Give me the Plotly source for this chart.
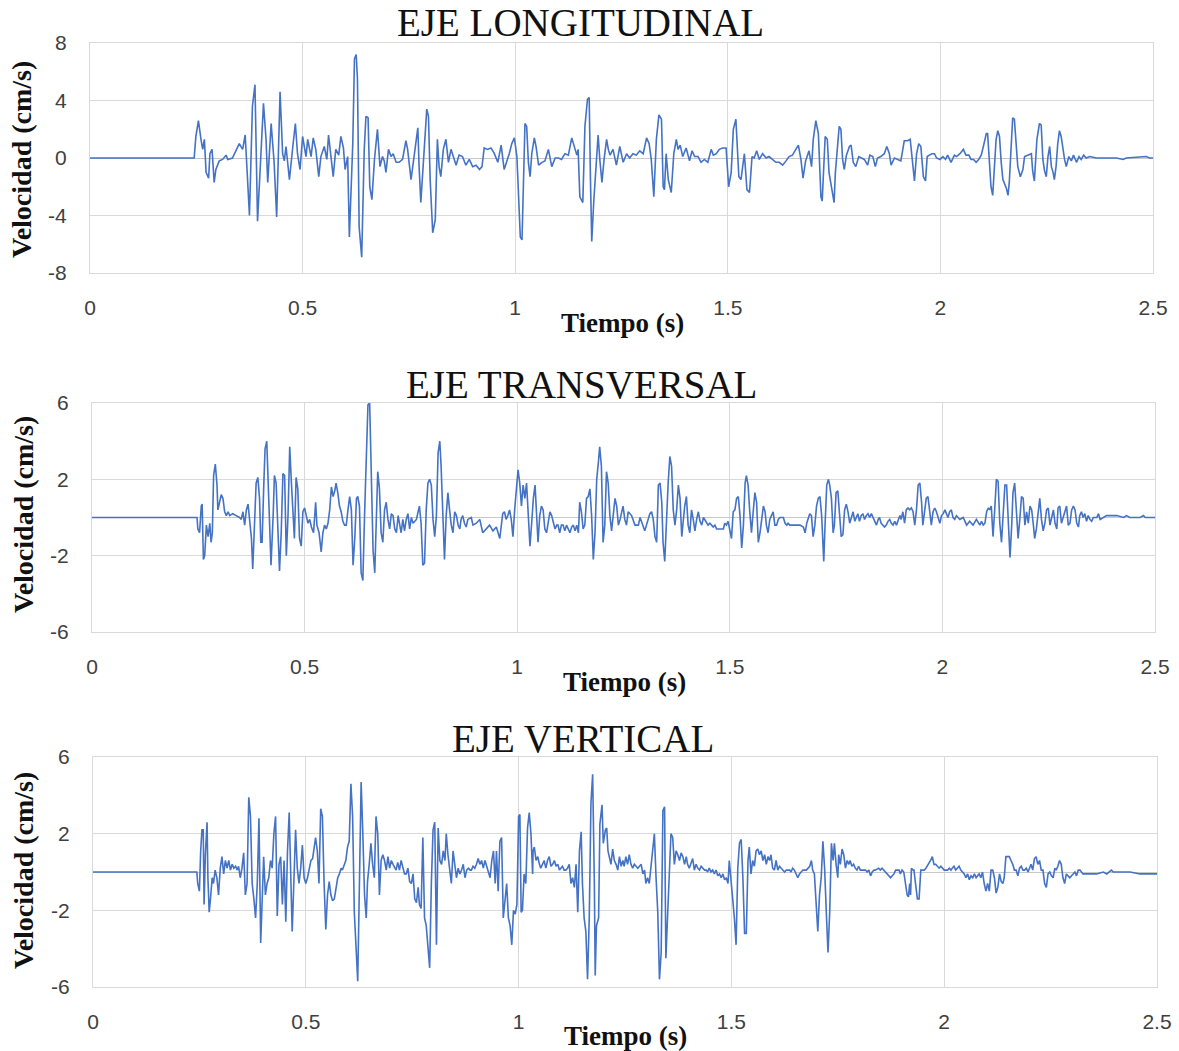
import plotly.graph_objects as go

# ---------------- DATA ----------------
T_LONG = [0, 0.245, 0.249, 0.255, 0.261, 0.265, 0.269, 0.273, 0.279, 0.282, 0.287, 0.292, 0.296, 0.304, 0.312, 0.320, 0.324, 0.335,
          0.351, 0.359, 0.365, 0.371, 0.375, 0.382, 0.388, 0.394, 0.402, 0.408, 0.414, 0.418, 0.426, 0.430, 0.433, 0.439, 0.447,
          0.453, 0.457, 0.461, 0.465, 0.469, 0.477, 0.483, 0.488, 0.494, 0.500, 0.508, 0.512, 0.520, 0.525, 0.531, 0.538, 0.543,
          0.551, 0.557, 0.561, 0.567, 0.572, 0.578, 0.585, 0.590, 0.596, 0.600, 0.606, 0.610, 0.618, 0.622, 0.626, 0.629, 0.633,
          0.639, 0.645, 0.649, 0.654, 0.658, 0.663, 0.669, 0.676, 0.682, 0.688, 0.692, 0.696, 0.702, 0.708, 0.713, 0.720, 0.727,
          0.735, 0.743, 0.747, 0.755, 0.763, 0.771, 0.774, 0.778, 0.786, 0.792, 0.796, 0.800, 0.806, 0.812, 0.817, 0.821, 0.825,
          0.831, 0.837, 0.843, 0.849, 0.854, 0.861, 0.868, 0.876, 0.884, 0.892, 0.900, 0.908, 0.916, 0.922, 0.927, 0.935, 0.943,
          0.951, 0.959, 0.967, 0.974, 0.980, 0.986, 0.992, 0.998, 1.004, 1.008, 1.012, 1.016, 1.020, 1.023, 1.027, 1.031, 1.035,
          1.039, 1.045, 1.049, 1.055, 1.063, 1.070, 1.078, 1.086, 1.094, 1.102, 1.109, 1.117, 1.125, 1.133, 1.137, 1.145, 1.148,
          1.152, 1.159, 1.164, 1.170, 1.174, 1.177, 1.180, 1.185, 1.190, 1.195, 1.199, 1.204, 1.209, 1.215, 1.219, 1.223, 1.230,
          1.238, 1.246, 1.254, 1.262, 1.269, 1.277, 1.285, 1.293, 1.301, 1.309, 1.315, 1.320, 1.326, 1.332, 1.338, 1.344, 1.348,
          1.351, 1.355, 1.360, 1.367, 1.373, 1.379, 1.383, 1.388, 1.394, 1.402, 1.410, 1.416, 1.422, 1.430, 1.437, 1.445, 1.453,
          1.461, 1.466, 1.473, 1.480, 1.488, 1.496, 1.502, 1.508, 1.513, 1.519, 1.526, 1.531, 1.539, 1.545, 1.551, 1.557, 1.562,
          1.568, 1.574, 1.582, 1.590, 1.597, 1.605, 1.613, 1.621, 1.629, 1.637, 1.644, 1.652, 1.660, 1.666, 1.672, 1.677, 1.683,
          1.691, 1.697, 1.701, 1.707, 1.713, 1.719, 1.722, 1.729, 1.734, 1.738, 1.744, 1.750, 1.753, 1.758, 1.762, 1.766, 1.770,
          1.774, 1.779, 1.786, 1.790, 1.795, 1.801, 1.808, 1.813, 1.821, 1.829, 1.834, 1.841, 1.847, 1.852, 1.860, 1.868, 1.874,
          1.880, 1.884, 1.892, 1.900, 1.907, 1.915, 1.923, 1.929, 1.933, 1.939, 1.944, 1.949, 1.954, 1.960, 1.965, 1.969, 1.974,
          1.980, 1.986, 1.991, 1.999, 2.006, 2.012, 2.017, 2.025, 2.033, 2.038, 2.046, 2.054, 2.060, 2.067, 2.072, 2.078, 2.084,
          2.090, 2.096, 2.101, 2.108, 2.111, 2.115, 2.119, 2.123, 2.127, 2.131, 2.135, 2.139, 2.143, 2.147, 2.155, 2.159, 2.162,
          2.166, 2.170, 2.174, 2.178, 2.182, 2.188, 2.194, 2.198, 2.206, 2.214, 2.217, 2.221, 2.227, 2.233, 2.237, 2.241, 2.245,
          2.249, 2.253, 2.257, 2.261, 2.265, 2.268, 2.272, 2.276, 2.280, 2.284, 2.288, 2.292, 2.296, 2.302, 2.308, 2.313, 2.320,
          2.326, 2.331, 2.337, 2.343, 2.351, 2.367, 2.414, 2.430, 2.437, 2.484, 2.492, 2.500]
V_LONG = [0, 0, 1.5, 2.6, 1.3, 0.6, 1.3, -1.0, -1.4, 0.3, 0.6, -1.7, -0.8, -0.2, -0.1, 0.2, -0.1, 0,
          1.0, 0.6, 1.6, -1.5, -4.0, 3.6, 5.1, -4.4, 0.1, 3.8, 1.3, -1.7, 2.4, 0.8, -0.3, -4.1, 4.6,
          0.3, -0.2, 0.8, -0.6, -1.5, 0.8, 2.4, 0.3, -0.8, 1.5, 0.1, 1.3, 0.1, 1.4, 0.6, -1.3, 0.1,
          0.8, -0.1, 1.6, -0.1, -1.3, 0.6, 0.2, 1.5, 0.7, -0.8, 0.1, -5.5, 1.0, 6.9, 7.2, 5.5, -4.8,
          -6.9, 0.6, 2.9, 2.8, -2.0, -2.9, -0.1, 2.0, -0.6, 0.1, -0.2, -1.0, 0.6, 0.1, 0.3, -0.3, -0.3,
          -0.1, 1.2, 0.6, -1.5, 0.3, 2.1, -0.6, -3.1, 0.6, 3.4, 2.9, -1.5, -5.2, -4.3, 1.3, -0.6, -1.3,
          0.6, 1.3, -0.3, 0.6, 0.1, -0.5, 0.2, 0.1, -0.5, -0.1, -0.6, -0.5, -0.8, -0.6, 0.7, 0.6, 0.7,
          0.3, -0.3, 0.9, -0.8, -0.3, 0.3, 1.0, 1.4, 0.1, -2.9, -5.5, -5.7, -0.6, 2.4, 2.2, -0.3, -1.3,
          0.3, 1.4, 0.8, -0.5, -0.3, -0.2, 0.6, -0.6, 0, 0, -0.1, 0.3, 0.2, 1.4, 1.0, 0.2, 0.6,
          -2.7, -3.1, 2.2, 4.1, 4.2, -1.5, -5.8, -2.9, -0.6, 1.6, -0.1, -1.7, -0.1, 1.3, 0.6, 0.2, 0.6,
          -0.5, 0.8, -0.3, 0.3, 0, 0.3, 0.2, 0.5, 0.3, 1.4, 1.0, -0.1, -2.7, 1.3, 3.0, 2.7, -2.0,
          -2.2, 0.3, -1.5, -2.4, 0.3, 1.3, 0.6, 0.9, 0.1, 0.7, -0.2, 0.5, 0.1, 0.1, -0.3, -0.1, -0.3,
          0.6, 0.2, 0.3, 0.6, 0.7, 0.7, -2.0, -1.0, 2.0, 2.7, -1.3, -1.5, 0.3, -2.2, -2.4, 0.1, 0,
          0.5, -0.1, 0.3, 0, 0.1, -0.1, -0.3, -0.3, -0.5, -0.2, 0.1, 0.2, 0.6, 0.9, -0.1, -1.4, -0.2,
          0.5, -0.6, 1.3, 2.6, 1.7, -2.7, -3.0, 1.5, 1.3, -1.0, -2.0, -3.1, -1.0, 0.6, 2.2, 2.0, -0.1,
          -0.8, 0.2, 0.8, 0.9, -0.3, -0.6, 0.1, 0, -0.1, -0.5, 0.2, 0.1, -0.6, 0, 0.1, 0.3, 0.8,
          0.3, -0.5, 0, -0.1, -0.2, 1.2, 1.2, 1.3, 0.1, -1.6, 0.3, 1.0, 0.8, -1.3, -1.6, 0.1, 0.2,
          0.3, 0.3, 0, -0.1, 0.1, -0.1, 0.2, -0.3, 0.2, 0.1, 0.3, 0.6, 0.2, 0.2, -0.1, -0.1, -0.3,
          -0.1, 0.2, 0.8, 1.7, 1.7, -0.6, -2.0, -2.6, -1.0, 1.3, 1.9, 1.5, -0.3, -1.5, -2.1, -2.6, -1.7,
          0.6, 2.8, 2.7, 0.8, -0.6, -1.3, -0.8, 0.1, 0.2, 0.3, -0.9, -1.6, 1.3, 2.4, 2.3, -0.1, -0.9,
          -1.3, 0.1, 0.8, -0.6, -1.0, -1.5, -0.6, 1.0, 1.9, 1.5, 0.6, -0.1, -0.6, 0.1, -0.2, 0.2, -0.3,
          0.1, -0.1, 0.2, 0, 0.1, 0, 0, -0.1, 0, 0.1, 0, 0]

T_TRANS = [0, 0.247, 0.249, 0.253, 0.257, 0.259, 0.262, 0.265, 0.269, 0.273, 0.277, 0.280, 0.283, 0.286, 0.290, 0.294, 0.296,
           0.300, 0.304, 0.308, 0.312, 0.316, 0.320, 0.324, 0.331, 0.339, 0.347, 0.351, 0.355, 0.359, 0.363, 0.367, 0.371,
           0.375, 0.378, 0.382, 0.386, 0.390, 0.394, 0.397, 0.400, 0.404, 0.407, 0.411, 0.415, 0.418, 0.421, 0.426, 0.429,
           0.433, 0.437, 0.441, 0.445, 0.449, 0.453, 0.457, 0.461, 0.465, 0.469, 0.473, 0.476, 0.480, 0.484, 0.488, 0.492,
           0.496, 0.500, 0.504, 0.508, 0.512, 0.516, 0.521, 0.526, 0.529, 0.534, 0.539, 0.543, 0.547, 0.551, 0.555, 0.559,
           0.563, 0.567, 0.571, 0.574, 0.578, 0.582, 0.586, 0.590, 0.594, 0.598, 0.602, 0.606, 0.610, 0.614, 0.618, 0.622,
           0.625, 0.629, 0.633, 0.637, 0.641, 0.645, 0.649, 0.653, 0.657, 0.661, 0.665, 0.669, 0.672, 0.676, 0.680, 0.684,
           0.688, 0.692, 0.696, 0.700, 0.704, 0.708, 0.712, 0.716, 0.720, 0.723, 0.727, 0.731, 0.735, 0.739, 0.743, 0.747,
           0.751, 0.755, 0.763, 0.767, 0.770, 0.774, 0.778, 0.782, 0.786, 0.790, 0.794, 0.798, 0.802, 0.806, 0.810, 0.814,
           0.818, 0.821, 0.825, 0.829, 0.833, 0.837, 0.841, 0.845, 0.849, 0.853, 0.857, 0.861, 0.865, 0.868, 0.872, 0.876,
           0.880, 0.884, 0.892, 0.896, 0.904, 0.912, 0.919, 0.927, 0.935, 0.943, 0.951, 0.959, 0.963, 0.966, 0.970, 0.974,
           0.978, 0.982, 0.986, 0.990, 0.994, 0.998, 1.002, 1.006, 1.010, 1.014, 1.018, 1.022, 1.026, 1.030, 1.034, 1.038,
           1.042, 1.046, 1.049, 1.053, 1.057, 1.061, 1.065, 1.069, 1.073, 1.077, 1.081, 1.085, 1.089, 1.093, 1.096, 1.100,
           1.104, 1.108, 1.112, 1.116, 1.124, 1.128, 1.132, 1.136, 1.140, 1.144, 1.147, 1.151, 1.155, 1.159, 1.163, 1.167,
           1.171, 1.175, 1.179, 1.183, 1.187, 1.191, 1.194, 1.198, 1.202, 1.206, 1.210, 1.214, 1.218, 1.222, 1.226, 1.230,
           1.234, 1.238, 1.242, 1.245, 1.249, 1.253, 1.257, 1.261, 1.269, 1.277, 1.285, 1.289, 1.296, 1.300, 1.304, 1.312,
           1.316, 1.320, 1.324, 1.328, 1.332, 1.336, 1.340, 1.343, 1.347, 1.351, 1.355, 1.359, 1.363, 1.367, 1.371, 1.375,
           1.379, 1.383, 1.387, 1.390, 1.394, 1.398, 1.402, 1.406, 1.410, 1.414, 1.418, 1.422, 1.426, 1.430, 1.434, 1.438,
           1.445, 1.449, 1.453, 1.461, 1.465, 1.469, 1.477, 1.485, 1.488, 1.492, 1.496, 1.500, 1.504, 1.508, 1.512, 1.516,
           1.520, 1.524, 1.528, 1.532, 1.536, 1.539, 1.543, 1.547, 1.551, 1.555, 1.559, 1.563, 1.567, 1.571, 1.575, 1.579,
           1.583, 1.586, 1.590, 1.594, 1.598, 1.602, 1.606, 1.610, 1.614, 1.618, 1.626, 1.630, 1.634, 1.637, 1.641, 1.649,
           1.657, 1.665, 1.673, 1.677, 1.681, 1.684, 1.688, 1.692, 1.696, 1.700, 1.704, 1.708, 1.712, 1.716, 1.720, 1.721,
           1.724, 1.728, 1.732, 1.735, 1.739, 1.743, 1.746, 1.750, 1.754, 1.758, 1.762, 1.766, 1.770, 1.774, 1.778, 1.782,
           1.786, 1.790, 1.794, 1.798, 1.801, 1.805, 1.809, 1.813, 1.817, 1.821, 1.825, 1.829, 1.833, 1.841, 1.845, 1.849,
           1.852, 1.856, 1.860, 1.864, 1.868, 1.872, 1.876, 1.880, 1.884, 1.888, 1.892, 1.896, 1.900, 1.903, 1.907, 1.911,
           1.915, 1.919, 1.923, 1.927, 1.931, 1.935, 1.939, 1.943, 1.947, 1.951, 1.954, 1.958, 1.962, 1.966, 1.970, 1.974,
           1.978, 1.982, 1.986, 1.990, 1.994, 1.998, 2.002, 2.006, 2.009, 2.013, 2.017, 2.021, 2.025, 2.029, 2.033, 2.041,
           2.049, 2.053, 2.057, 2.064, 2.072, 2.080, 2.088, 2.092, 2.096, 2.100, 2.104, 2.108, 2.111, 2.115, 2.119, 2.123,
           2.127, 2.131, 2.135, 2.139, 2.143, 2.147, 2.151, 2.155, 2.159, 2.163, 2.166, 2.170, 2.174, 2.178, 2.182, 2.186,
           2.190, 2.194, 2.198, 2.202, 2.206, 2.210, 2.214, 2.217, 2.221, 2.225, 2.229, 2.233, 2.237, 2.241, 2.245, 2.249,
           2.253, 2.257, 2.261, 2.265, 2.269, 2.272, 2.276, 2.280, 2.288, 2.292, 2.296, 2.300, 2.304, 2.308, 2.312, 2.316,
           2.320, 2.323, 2.327, 2.331, 2.335, 2.339, 2.343, 2.347, 2.351, 2.355, 2.363, 2.367, 2.371, 2.378, 2.386, 2.410,
           2.426, 2.433, 2.441, 2.465, 2.473, 2.477, 2.500]
V_TRANS = [0, 0, -0.6, -0.8, 0.6, 0.7, -2.2, -2.0, -0.4, -1.0, -0.3, -1.3, -0.8, 2.2, 2.8, 1.7, 0.4,
           0.8, 1.2, 1.0, 0.3, 0.1, 0.3, 0.1, 0.2, 0.1, 0, -0.1, 0.3, -0.4, 0.4, 0.7, -0.3,
           -1.1, -2.7, 0.1, 1.8, 2.1, 1.0, -1.3, -1.3, 1.7, 3.6, 4.0, 1.3, -1.1, -2.5, 0.1, 2.2,
           1.8, -0.8, -2.8, -0.8, 2.3, 2.2, -2.0, 0.1, 3.7, 1.8, -0.3, -1.1, 2.1, 1.5, -1.1, -1.5,
           0.3, 0.5, 0.1, -0.3, -0.1, -0.5, -0.8, 0.8, -0.4, -0.8, -1.8, -0.8, -0.4, -0.6, -0.3, 0.4,
           1.6, 1.1, 1.4, 1.8, 1.3, 0.6, 0.3, -0.2, -0.4, -0.4, 0.4, 1.1, 0.4, -2.5, -1.1, 1.0,
           1.1, 0.6, -2.9, -3.3, 0.1, 3.1, 5.9, 6.0, 1.5, -1.7, -2.9, 0.1, 2.4, 1.5, -0.8, -1.3,
           0.4, 0.8, -0.1, -0.6, 0.2, 0.1, -0.6, -0.8, 0.1, -0.3, -0.8, -0.1, -0.7, -0.1, 0.2, -0.6,
           0, -0.3, -0.1, 0.3, 0.6, -0.3, -2.5, -2.4, 0.4, 1.8, 2.0, 1.7, -0.1, -1.0, 0.1, 3.4,
           4.0, 2.7, -0.4, -2.2, 0.1, 1.3, 0.4, -0.4, -0.8, 0.3, 0.1, -0.4, -0.6, -0.1, 0.1, -0.3,
           -0.5, -0.1, 0, -0.4, -0.3, -0.1, -0.8, -0.6, -0.4, -0.7, -0.5, -1.1, -0.4, 0.2, 0.3, -0.1,
           0.1, 0.4, -0.1, -1.0, 0.4, 1.7, 2.5, 1.8, 0.6, 1.7, 1.0, 1.8, 0.4, -1.5, -0.3, 1.0,
           1.7, 0.3, -1.3, 0.1, 0.6, 0.4, -0.6, -0.8, -0.3, 0.3, 0.1, -0.3, -0.6, -0.4, -0.4, -0.8,
           -0.4, -0.4, -0.7, -0.4, -0.8, -0.5, -0.4, -0.7, -0.4, -0.8, 0.8, 0.3, -0.6, -0.4, 1.0, 1.1,
           1.5, 0.1, -2.2, -0.8, 2.0, 2.9, 3.7, 2.7, -1.3, -0.4, 2.4, 1.8, 0.1, -0.7, 0.3, 1.0,
           0.6, -0.4, -0.1, 0.3, 0.6, -0.1, -0.4, 0.3, 0.1, -0.4, -0.4, 0, -0.4, -0.7, -0.4, 0.2,
           0.3, -0.1, -1.0, -1.3, 1.7, 1.8, 0.8, -1.3, -2.3, 0.3, 1.8, 3.2, 2.7, 0.4, -0.4, 0.4,
           1.7, 1.0, -1.0, -0.3, 0.6, 1.1, -0.4, -0.8, 0.4, -0.1, -0.7, -0.1, 0.3, -0.2, -0.4, 0,
           -0.3, -0.4, -0.3, -0.5, -0.4, -0.6, -0.6, -0.6, -0.3, -0.4, -0.2, -0.7, -1.1, 0.3, 0.4, 1.0,
           1.1, 0.1, -1.6, -0.4, 1.8, 2.2, 1.7, 0.3, -0.8, 0.3, 1.3, 0.8, -1.3, -0.8, -0.1, 0.6,
           0.3, -0.4, -0.8, -0.1, 0.1, 0.3, -0.4, -0.4, -0.1, 0, 0, -0.3, -0.4, -0.3, -0.4, -0.4,
           -0.4, -0.4, -0.5, -0.8, -0.3, -0.1, 0.2, 0.1, -1.0, -0.4, 0.6, 1.0, 1.1, 0.1, -1.5, -2.3,
           -0.4, 1.7, 2.0, 1.7, 1.0, -0.8, -0.4, 1.3, 1.4, -0.1, -1.0, -0.9, 0.4, 0.7, 0.3, -0.3,
           0, 0.3, -0.2, 0.1, 0.2, -0.2, 0.1, 0.2, -0.1, 0.1, 0.2, 0, 0.2, -0.2, -0.4, -0.1,
           0, -0.3, -0.4, -0.5, -0.4, -0.2, -0.1, -0.3, -0.4, -0.2, -0.4, -0.1, 0.1, -0.1, 0.3, -0.3,
           0.4, 0.5, 0.4, 0.5, 0.3, -0.4, 0.4, 1.7, 1.8, 0.8, -0.4, 0.3, 1.0, 1.1, 0.4, -0.4,
           0.3, 0.5, 0.3, 0, -0.3, 0.1, 0.2, 0.4, 0.2, 0, 0.3, 0.4, 0, -0.1, 0.1, -0.1,
           0, -0.2, -0.4, -0.2, -0.4, -0.1, -0.4, -0.2, -0.4, -0.3, 0.3, 0.5, 0.4, 0.6, -1.0, 0.4,
           2.0, 1.9, -0.3, -1.3, 0.3, 1.7, 1.7, -0.1, -2.1, -0.4, 1.3, 1.8, 0.4, -1.1, -0.1, 1.1,
           1.0, -0.4, 0.3, -0.3, 0.6, 0.4, -0.4, -1.1, -0.6, 0.3, 1.0, -0.1, -0.7, -0.3, 0.4, 0.5,
           -0.4, 0, 0.4, -0.3, -0.6, 0.5, 0.6, -0.3, 0.3, 0.6, -0.4, -0.3, 0.4, 0.6, 0.4, -0.3,
           -0.5, 0.1, 0.3, 0, 0.2, -0.2, 0.1, -0.1, -0.2, 0, 0, 0.2, -0.1, 0, 0.1, 0.1,
           0, 0.1, 0, 0, 0.1, 0, 0]

T_VERT = [0, 0.244, 0.246, 0.250, 0.253, 0.256, 0.259, 0.261, 0.264, 0.268, 0.270, 0.273, 0.276, 0.280, 0.283, 0.287, 0.291,
          0.295, 0.299, 0.303, 0.307, 0.311, 0.315, 0.319, 0.323, 0.327, 0.331, 0.335, 0.339, 0.342, 0.346, 0.350, 0.354,
          0.358, 0.362, 0.366, 0.370, 0.374, 0.378, 0.382, 0.386, 0.390, 0.394, 0.398, 0.401, 0.405, 0.409, 0.413, 0.417,
          0.421, 0.425, 0.429, 0.433, 0.437, 0.441, 0.445, 0.449, 0.453, 0.457, 0.461, 0.464, 0.468, 0.472, 0.476, 0.480,
          0.484, 0.488, 0.492, 0.496, 0.500, 0.504, 0.508, 0.512, 0.516, 0.520, 0.523, 0.527, 0.531, 0.535, 0.539, 0.543,
          0.547, 0.551, 0.555, 0.559, 0.563, 0.567, 0.571, 0.575, 0.579, 0.583, 0.586, 0.590, 0.594, 0.598, 0.602, 0.606,
          0.610, 0.614, 0.618, 0.622, 0.626, 0.630, 0.634, 0.638, 0.642, 0.645, 0.649, 0.653, 0.657, 0.661, 0.665, 0.669,
          0.673, 0.677, 0.681, 0.685, 0.689, 0.693, 0.697, 0.701, 0.705, 0.708, 0.712, 0.716, 0.720, 0.724, 0.728, 0.732,
          0.736, 0.740, 0.744, 0.748, 0.752, 0.756, 0.760, 0.764, 0.767, 0.771, 0.775, 0.779, 0.783, 0.787, 0.791, 0.795,
          0.799, 0.803, 0.807, 0.811, 0.815, 0.819, 0.823, 0.827, 0.830, 0.834, 0.838, 0.842, 0.846, 0.850, 0.854, 0.858,
          0.862, 0.866, 0.870, 0.874, 0.878, 0.882, 0.886, 0.889, 0.893, 0.897, 0.901, 0.905, 0.909, 0.913, 0.917, 0.921,
          0.925, 0.929, 0.933, 0.937, 0.941, 0.945, 0.948, 0.952, 0.956, 0.960, 0.964, 0.968, 0.972, 0.976, 0.980, 0.984,
          0.988, 0.992, 0.996, 1.000, 1.003, 1.006, 1.009, 1.013, 1.017, 1.021, 1.025, 1.029, 1.033, 1.034, 1.037, 1.041,
          1.045, 1.049, 1.052, 1.056, 1.060, 1.064, 1.068, 1.072, 1.076, 1.080, 1.084, 1.088, 1.092, 1.096, 1.100, 1.103,
          1.107, 1.111, 1.115, 1.119, 1.123, 1.127, 1.131, 1.135, 1.139, 1.143, 1.147, 1.150, 1.154, 1.158, 1.162, 1.166,
          1.170, 1.174, 1.178, 1.180, 1.183, 1.188, 1.191, 1.196, 1.199, 1.204, 1.207, 1.210, 1.213, 1.217, 1.221, 1.225,
          1.229, 1.233, 1.237, 1.241, 1.245, 1.248, 1.252, 1.256, 1.260, 1.264, 1.268, 1.272, 1.276, 1.280, 1.284, 1.288,
          1.292, 1.296, 1.299, 1.303, 1.307, 1.311, 1.315, 1.319, 1.323, 1.327, 1.331, 1.335, 1.339, 1.343, 1.346, 1.350,
          1.354, 1.358, 1.362, 1.366, 1.370, 1.374, 1.378, 1.382, 1.386, 1.390, 1.394, 1.397, 1.401, 1.405, 1.409, 1.413,
          1.417, 1.421, 1.425, 1.429, 1.433, 1.437, 1.441, 1.444, 1.448, 1.452, 1.456, 1.460, 1.464, 1.468, 1.472, 1.476,
          1.480, 1.484, 1.488, 1.492, 1.495, 1.499, 1.503, 1.507, 1.511, 1.515, 1.519, 1.523, 1.527, 1.531, 1.535, 1.539,
          1.542, 1.546, 1.550, 1.554, 1.558, 1.562, 1.566, 1.570, 1.574, 1.578, 1.582, 1.586, 1.590, 1.593, 1.597, 1.601,
          1.605, 1.609, 1.613, 1.617, 1.621, 1.625, 1.629, 1.637, 1.640, 1.644, 1.648, 1.652, 1.656, 1.660, 1.668, 1.676,
          1.680, 1.684, 1.688, 1.691, 1.695, 1.699, 1.703, 1.707, 1.711, 1.715, 1.719, 1.723, 1.727, 1.731, 1.735, 1.739,
          1.742, 1.746, 1.750, 1.752, 1.756, 1.760, 1.764, 1.768, 1.772, 1.776, 1.779, 1.783, 1.787, 1.791, 1.795, 1.799,
          1.803, 1.807, 1.811, 1.815, 1.819, 1.823, 1.827, 1.831, 1.835, 1.838, 1.846, 1.850, 1.854, 1.858, 1.862, 1.866,
          1.870, 1.874, 1.878, 1.882, 1.886, 1.890, 1.894, 1.897, 1.901, 1.905, 1.909, 1.913, 1.916, 1.919, 1.921, 1.923,
          1.927, 1.929, 1.931, 1.934, 1.937, 1.941, 1.945, 1.949, 1.953, 1.957, 1.960, 1.964, 1.968, 1.972, 1.976, 1.980,
          1.984, 1.988, 1.992, 1.996, 2.000, 2.004, 2.008, 2.012, 2.016, 2.019, 2.023, 2.027, 2.031, 2.035, 2.039, 2.043,
          2.047, 2.051, 2.055, 2.059, 2.063, 2.067, 2.071, 2.075, 2.079, 2.082, 2.086, 2.090, 2.094, 2.098, 2.102, 2.106,
          2.110, 2.114, 2.118, 2.122, 2.126, 2.130, 2.134, 2.138, 2.141, 2.145, 2.149, 2.153, 2.157, 2.161, 2.165, 2.169,
          2.173, 2.177, 2.181, 2.185, 2.189, 2.193, 2.197, 2.201, 2.204, 2.208, 2.212, 2.216, 2.220, 2.224, 2.228, 2.232,
          2.236, 2.240, 2.244, 2.248, 2.252, 2.256, 2.260, 2.263, 2.267, 2.271, 2.275, 2.279, 2.283, 2.287, 2.291, 2.295,
          2.303, 2.307, 2.311, 2.315, 2.319, 2.322, 2.326, 2.334, 2.342, 2.358, 2.374, 2.382, 2.393, 2.397, 2.437, 2.460,
          2.500]
V_VERT = [0, 0, -0.6, -1.0, 1.1, 2.2, 2.2, -1.7, 0.9, 2.6, -0.3, -2.1, -1.4, -0.3, -0.6, 0.1, -0.3,
          -1.2, 0.2, 0.8, -0.1, 0.6, 0.2, 0.6, 0.1, 0.4, 0.2, 0.3, 0.1, 0.3, -0.3, 0.2, 1.0,
          -1.2, -0.6, 3.9, 2.9, -0.6, -1.4, -2.4, -0.6, 2.8, -3.7, -0.3, 0.8, -1.2, -0.6, -0.3, 0.6,
          0.2, 2.0, 2.9, -2.3, 0.4, 0.8, -1.7, 0.6, -2.6, 1.1, 3.1, 0.2, -3.1, -0.5, 2.2, 0.2,
          -0.6, 0.2, 1.4, -0.3, -0.6, -0.3, 0.2, 0.6, 0.7, 1.5, 1.8, 1.1, -0.6, 3.3, 2.9, -0.6,
          -3.0, -1.2, -0.5, -1.2, -1.5, -1.4, -0.8, -0.3, -0.1, 0.2, 0.1, 0.4, 0.6, 1.3, 1.6, 4.6,
          2.9, -2.1, -3.8, -5.7, -0.6, 4.7, 2.0, -1.2, -2.4, -0.5, 0.4, 1.5, 0.4, -0.3, 2.9, 2.0,
          -1.2, 0.6, 0.9, 0.6, 0.1, 0.8, 0.2, 0.6, 0.4, 0.3, 0.1, 0.5, 0.1, 0.6, 0.2, -0.1,
          -0.1, 0.2, -0.5, -0.6, -0.1, -1.4, -1.6, -0.8, -1.7, -1.9, 1.8, -2.4, -2.8, -4.2, -5.0, -0.6,
          2.2, 2.6, -3.8, 2.3, 0.6, 0.4, 1.1, 0.6, 2.0, 0.9, 0.1, -0.6, 1.1, 0.4, -0.3, 0.2,
          -0.1, 0.1, 0.4, -0.3, 0.1, 0.2, 0.1, 0.1, 0.3, 0.2, 0.4, 0.7, 0.4, 0.6, 0.2, 0.6,
          0.3, 0.1, -0.3, 0.6, 1.1, -0.6, 1.1, -1.0, 1.6, 1.8, -2.4, -1.5, -0.6, -2.4, -2.8, -3.8,
          -2.0, -2.2, -1.7, 2.9, 3.0, -2.1, -2.0, -0.1, -0.6, 2.3, 3.1, 2.0, -0.1, 1.1, 1.3, 0.6,
          0.8, 0.4, 0.2, 0.4, 0.6, 0.2, 0.6, 0.8, 0.3, 0.4, 0.6, 0.3, 0.4, 0.1, 0.2, 0.3,
          0.1, 0.1, 0.2, 0.4, -0.6, -0.3, -0.8, 0.4, -2.1, 1.1, 2.1, -0.6, -2.4, -3.1, -5.6, -2.4,
          3.6, 5.1, -0.6, -5.4, -2.8, -2.4, 2.5, 3.5, 1.5, 2.2, 2.3, 1.1, 0.8, 0.4, 1.2, 0.6,
          0.4, 0.1, 0.8, 0.3, 0.6, 0.3, 0.8, 0.4, 0.9, 0.4, 0.2, 0.4, 0.3, 0.2, 0.3, 0.4,
          -0.1, 0.1, -0.6, -0.3, -0.6, 0.4, 1.1, 2.0, -0.3, -2.1, -5.6, -4.2, 3.2, 3.4, -4.5, -2.1,
          -0.6, 2.0, 1.8, 0.4, 1.1, 0.9, 0.6, 1.0, 0.8, 0.4, 0.8, 0.4, 0.2, 0.5, 0.7, 0.1,
          0.4, 0.2, 0.1, 0.3, 0.2, 0.1, 0.1, 0, 0.2, 0, 0.1, -0.1, 0.1, -0.2, -0.1, -0.3,
          -0.1, -0.4, -0.3, -0.6, 0.6, -0.6, -1.4, -2.4, -3.8, 0.2, 1.5, 1.7, -0.3, -3.2, -3.2, 0.6,
          1.3, -0.1, 0.6, 0.3, 1.1, 1.2, 0.9, 1.1, 0.6, 0.9, 0.4, 0.8, 0.6, 0.9, 0.2, 0.1,
          0.6, 0.1, 0.3, 0.2, 0.1, 0, 0.1, 0.1, 0, 0.2, 0.1, -0.1, -0.3, -0.1, 0.1, 0.1,
          0.2, 0.3, 0.6, 0.1, -0.1, -1.7, -3.1, -1.2, -0.3, 1.6, 0.2, -2.1, -4.2, -2.1, 1.5, 0.6,
          1.5, 0.4, -0.3, 0.9, 0.4, 1.2, 0.9, 0.2, 0.6, 0.4, 0.6, 0.3, 0.4, 0.2, 0.1, 0.3,
          0.1, 0.1, 0.1, 0.1, 0, 0.1, -0.2, 0, 0.1, 0.1, 0.2, 0.1, 0.2, 0.1, 0, -0.1,
          -0.2, -0.3, -0.2, -0.1, 0.1, 0.1, 0.1, -0.1, 0.1, 0, -0.6, -1.2, -1.3, -0.6, -1.2, 0.2,
          0.1, 0.1, -0.3, -1.0, -1.4, -1.4, 0.1, 0.1, 0.1, 0.2, 0.3, 0.4, 0.6, 0.8, 0.4, 0.4,
          0.3, 0.2, 0.3, 0.2, 0.1, 0.1, 0.1, 0.2, 0.1, 0.2, 0.3, 0.1, 0.2, 0.3, 0.1, 0,
          -0.1, -0.3, -0.1, -0.4, -0.2, -0.3, -0.1, -0.3, -0.2, -0.1, -0.3, 0, -0.6, -1.0, -0.6, -1.0,
          0.1, 0.1, -0.3, -1.1, -0.8, -0.1, -0.5, -0.6, -0.3, 0.8, 0.8, 0.8, 0.6, 0.4, 0.1, 0.1,
          -0.2, 0.2, 0.3, 0.1, 0.1, 0.2, 0, 0.3, 0.4, 0.1, 0.7, 0.8, 0.4, 0.6, 0.1, 0.1,
          -0.6, -0.8, -0.1, 0, -0.2, -0.3, 0.2, 0.1, 0.3, 0.6, 0.4, -0.3, -0.6, -0.1, -0.2, -0.3,
          -0.1, 0, -0.2, 0.1, 0.1, 0, -0.1, -0.1, -0.1, -0.1, 0, -0.1, 0.1, 0, 0, -0.1,
          -0.1]

X_TICKS = [0, 0.5, 1, 1.5, 2, 2.5]
X_TICK_TEXT = ["0", "0.5", "1", "1.5", "2", "2.5"]
Y1_TICKS = [-8, -4, 0, 4, 8]
Y1_TICK_TEXT = ["-8", "-4", "0", "4", "8"]
Y23_TICKS = [-6, -2, 2, 6]
Y23_TICK_TEXT = ["-6", "-2", "2", "6"]
TITLES = ["EJE LONGITUDINAL", "EJE TRANSVERSAL", "EJE VERTICAL"]
X_TITLE = "Tiempo (s)"
Y_TITLE = "Velocidad (cm/s)"

# ---------------- FIGURE ----------------
W, H = 1179, 1051
LINE = "#4472C4"
GRID = "#d9d9d9"
TICKFONT = dict(family="Liberation Sans Narrow, Liberation Sans, Arial", size=21, color="#404040")
SERIF = "Liberation Serif, Times New Roman, serif"

# plot-area pixel boxes (left, right, top, bottom)
boxes = [(90, 1153, 43, 273), (92, 1155, 403, 632), (93, 1157, 757, 987)]
series = [(T_LONG, V_LONG), (T_TRANS, V_TRANS), (T_VERT, V_VERT)]

fig = go.Figure()
layout = dict(width=W, height=H, autosize=False,
              margin=dict(l=0, r=0, t=0, b=0, pad=0, autoexpand=False),
              paper_bgcolor="white", plot_bgcolor="white", showlegend=False, annotations=[])

for i, ((l, r, t, b), (tx, vy)) in enumerate(zip(boxes, series)):
    n = "" if i == 0 else str(i + 1)
    fig.add_trace(go.Scatter(x=tx, y=vy, mode="lines", line=dict(color=LINE, width=1.6),
                             xaxis="x" + n, yaxis="y" + n, hoverinfo="skip"))
    layout["xaxis" + n] = dict(domain=[l / W, r / W], anchor="y" + n, range=[0, 2.5],
                               tickvals=X_TICKS, ticktext=X_TICK_TEXT, showgrid=True, gridcolor=GRID,
                               gridwidth=1, zeroline=False, showline=True, mirror=True, linecolor=GRID,
                               ticks="", ticklabelstandoff=16, tickfont=TICKFONT, fixedrange=True,
                               automargin=False)
    if i == 0:
        yt, ytt, yr = Y1_TICKS, Y1_TICK_TEXT, [-8, 8]
    else:
        yt, ytt, yr = Y23_TICKS, Y23_TICK_TEXT, [-6, 6]
    layout["yaxis" + n] = dict(domain=[1 - b / H, 1 - t / H], anchor="x" + n, range=yr,
                               tickvals=yt, ticktext=ytt, showgrid=True, gridcolor=GRID, gridwidth=1,
                               zeroline=True, zerolinecolor="#c8c8c8", zerolinewidth=1,
                               showline=True, mirror=True, linecolor=GRID,
                               ticks="", ticklabelstandoff=18, tickfont=TICKFONT, fixedrange=True,
                               automargin=False)

title_pos = [(580, 23), (581, 385), (583, 738)]
xt_pos = [(622, 323), (624, 682), (625, 1036)]
yt_pos = [(22, 160), (23, 515), (23, 871)]
for i in range(3):
    layout["annotations"].append(dict(text=TITLES[i], x=title_pos[i][0] / W, y=1 - title_pos[i][1] / H,
                                      xref="paper", yref="paper", xanchor="center", yanchor="middle",
                                      showarrow=False, font=dict(family=SERIF, size=39, color="#111111")))
    layout["annotations"].append(dict(text="<b>" + X_TITLE + "</b>", x=xt_pos[i][0] / W, y=1 - xt_pos[i][1] / H,
                                      xref="paper", yref="paper", xanchor="center", yanchor="middle",
                                      showarrow=False, font=dict(family=SERIF, size=27, color="#111111")))
    layout["annotations"].append(dict(text="<b>" + Y_TITLE + "</b>", x=yt_pos[i][0] / W, y=1 - yt_pos[i][1] / H,
                                      xref="paper", yref="paper", xanchor="center", yanchor="middle",
                                      textangle=-90, showarrow=False,
                                      font=dict(family=SERIF, size=28, color="#111111")))

fig.update_layout(**layout)
fig.write_html("out.html", config={"displayModeBar": False},
               post_script=("document.documentElement.style.margin='0';"
                            "document.body.style.margin='0';document.body.style.padding='0';"
                            "document.documentElement.style.overflow='hidden';document.body.style.overflow='hidden';"))
